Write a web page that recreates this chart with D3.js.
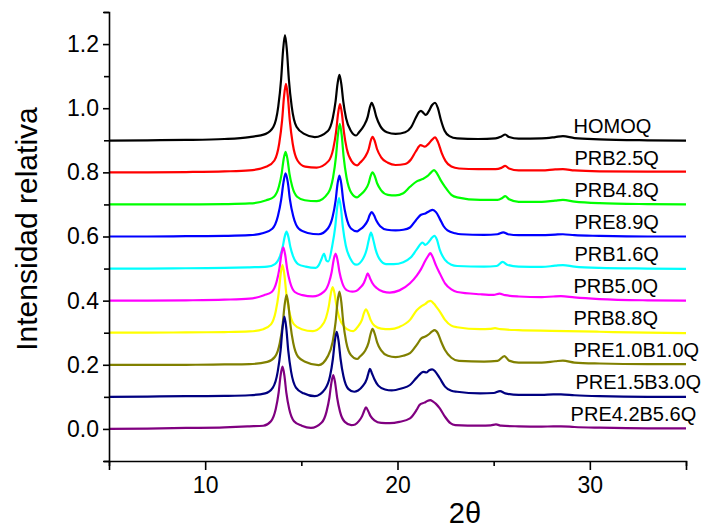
<!DOCTYPE html>
<html>
<head>
<meta charset="utf-8">
<script src="https://cdn.jsdelivr.net/npm/d3@7"></script>
<style>
  body { margin: 0; background: #fff; }
  svg { display: block; font-family: "Liberation Sans", Arial, sans-serif; }
</style>
</head>
<body>
<div id="chart"></div>
<script>
// sample names, colours, vertical offsets and label positions (2θ)
const sampleNames = ['HOMOQ', 'PRB2.5Q', 'PRB4.8Q', 'PRE8.9Q', 'PRB1.6Q',
  'PRB5.0Q', 'PRB8.8Q', 'PRE1.0B1.0Q', 'PRE1.5B3.0Q', 'PRE4.2B5.6Q'];
const seriesColors = ['#000000', '#ff0000', '#00ff00', '#0000ff', '#00ffff',
  '#ff00ff', '#ffff00', '#808000', '#000080', '#800080'];
const offsets = [0.9, 0.8, 0.7, 0.6, 0.5, 0.4, 0.3, 0.2, 0.1, 0.0];
const labelX = [29.15, 29.2, 29.2, 29.2, 29.2, 29.15, 29.15, 29.15, 29.25, 29.0];

const xTicks = [10, 20, 30];
const xMinor = [5, 15, 25, 35];
const yTicks = [0, 0.2, 0.4, 0.6, 0.8, 1.0, 1.2];
const yMinor = [-0.1, 0.1, 0.3, 0.5, 0.7, 0.9, 1.1, 1.3];

// diffractograms [2θ, relative intensity]
const homoq = [[5,0.899],[7,0.9],[9,0.901],[11,0.904],[12.3,0.91],[13.15,0.92],[13.55,0.942],[13.8,1.005],[13.95,1.091],[14.05,1.18],[14.15,1.228],[14.25,1.18],[14.35,1.091],[14.5,1.005],[14.75,0.942],[15.15,0.92],[15.7,0.91],
  [16.38,0.929],[16.63,0.968],[16.78,1.021],[16.88,1.075],[16.98,1.104],[17.08,1.075],[17.18,1.021],[17.33,0.968],[17.58,0.929],[17.85,0.915],
  [18.0,0.925],[18.25,0.945],[18.45,0.973],[18.55,1.0],[18.66,1.017],[18.78,1.0],[18.9,0.973],[19.1,0.945],[19.45,0.925],[19.9,0.92],
  [20.4,0.925],[20.7,0.94],[20.95,0.97],[21.12,0.988],[21.22,0.992],[21.35,0.985],[21.48,0.979],[21.62,0.99],[21.8,1.01],[21.95,1.017],[22.1,1.0],[22.25,0.965],[22.45,0.93],[22.7,0.913],[23.1,0.906],
  [24.2,0.904],[25.1,0.906],[25.4,0.912],[25.6,0.918],[25.8,0.91],[26.3,0.905],[27.5,0.906],[28.2,0.91],[28.6,0.913],[29.2,0.907],[30.5,0.903],[33,0.9],[35,0.899]];

const prb25q = [[5,0.8],[7,0.8],[9,0.801],[11,0.803],[12.3,0.806],[13.2,0.818],[13.6,0.837],[13.85,0.89],[14.0,0.962],[14.1,1.036],[14.2,1.076],[14.3,1.036],[14.4,0.962],[14.55,0.89],[14.8,0.837],[15.2,0.818],[15.8,0.815],
  [16.41,0.835],[16.66,0.874],[16.81,0.928],[16.91,0.983],[17.01,1.013],[17.11,0.983],[17.21,0.928],[17.36,0.874],[17.61,0.835],[17.9,0.822],
  [18.05,0.83],[18.3,0.847],[18.5,0.872],[18.6,0.897],[18.7,0.911],[18.82,0.897],[18.94,0.872],[19.15,0.847],[19.5,0.83],[19.9,0.823],
  [20.4,0.826],[20.7,0.84],[20.95,0.865],[21.2,0.885],[21.42,0.88],[21.6,0.888],[21.8,0.902],[21.95,0.909],[22.1,0.895],[22.3,0.86],[22.5,0.835],[22.8,0.818],[23.2,0.812],
  [24.2,0.81],[25.1,0.81],[25.4,0.814],[25.6,0.82],[25.8,0.812],[26.3,0.806],[27.5,0.806],[28.2,0.809],[28.6,0.81],[29.2,0.806],[30.5,0.803],[33,0.802],[35,0.802]];

const prb48q = [[5,0.7],[7,0.7],[9,0.7],[11,0.701],[12.3,0.703],[13.18,0.713],[13.58,0.724],[13.83,0.755],[13.98,0.797],[14.08,0.841],[14.18,0.864],[14.28,0.841],[14.38,0.797],[14.53,0.755],[14.78,0.724],[15.18,0.713],[15.8,0.71],
  [16.4,0.736],[16.65,0.784],[16.8,0.848],[16.9,0.915],[17.0,0.951],[17.1,0.915],[17.2,0.848],[17.35,0.784],[17.6,0.736],[17.9,0.722],
  [18.05,0.729],[18.3,0.744],[18.5,0.766],[18.6,0.788],[18.7,0.8],[18.82,0.788],[18.94,0.766],[19.15,0.744],[19.5,0.73],[19.9,0.728],
  [20.3,0.735],[20.65,0.755],[21.0,0.772],[21.3,0.779],[21.55,0.788],[21.75,0.8],[21.9,0.807],[22.05,0.797],[22.25,0.775],[22.47,0.755],[22.8,0.73],[23.1,0.722],
  [24.3,0.714],[25.2,0.714],[25.45,0.72],[25.6,0.726],[25.8,0.716],[26.3,0.708],[27.5,0.708],[28.2,0.712],[28.6,0.714],[29.2,0.709],[30.5,0.704],[33,0.701],[35,0.7]];

const pre89q = [[5,0.6],[7,0.6],[9,0.601],[11,0.602],[12.3,0.604],[13.03,0.611],[13.49,0.624],[13.78,0.663],[13.95,0.714],[14.07,0.768],[14.18,0.797],[14.3,0.768],[14.41,0.714],[14.58,0.663],[14.87,0.624],[15.33,0.611],[15.9,0.607],
  [16.38,0.625],[16.63,0.662],[16.78,0.711],[16.88,0.763],[16.98,0.79],[17.08,0.763],[17.18,0.711],[17.33,0.662],[17.58,0.625],[17.9,0.616],
  [18.0,0.62],[18.25,0.632],[18.45,0.65],[18.55,0.666],[18.66,0.676],[18.78,0.666],[18.9,0.65],[19.1,0.632],[19.45,0.621],[19.9,0.619],
  [20.3,0.621],[20.65,0.628],[20.95,0.65],[21.2,0.667],[21.45,0.672],[21.65,0.679],[21.83,0.683],[22.0,0.676],[22.2,0.655],[22.4,0.632],[22.6,0.619],[23.0,0.61],[23.3,0.607],
  [24.5,0.605],[25.2,0.607],[25.5,0.613],[25.75,0.607],[26.3,0.604],[27.5,0.604],[28.2,0.606],[28.6,0.607],[29.2,0.604],[30.5,0.602],[33,0.6],[35,0.6]];

const prb16q = [[5,0.5],[7,0.5],[9,0.501],[11,0.502],[12.3,0.504],[13.23,0.506],[13.63,0.514],[13.88,0.537],[14.03,0.567],[14.13,0.598],[14.23,0.615],[14.33,0.598],[14.43,0.567],[14.58,0.537],[14.83,0.514],[15.23,0.506],[15.75,0.502],
  [15.9,0.51],[16.05,0.53],[16.18,0.547],[16.3,0.525],[16.4,0.522],
  [16.61,0.572],[16.76,0.629],[16.86,0.688],[16.96,0.72],[17.06,0.688],[17.16,0.629],[17.31,0.572],[17.56,0.53],[17.85,0.512],
  [18.2,0.53],[18.4,0.56],[18.51,0.59],[18.62,0.612],[18.74,0.59],[18.86,0.56],[19.06,0.53],[19.4,0.514],[19.8,0.514],
  [20.3,0.52],[20.7,0.535],[21.0,0.56],[21.3,0.581],[21.45,0.574],[21.65,0.585],[21.8,0.597],[21.92,0.602],[22.05,0.59],[22.2,0.558],[22.47,0.527],[22.8,0.512],[23.1,0.508],
  [24.5,0.506],[25.15,0.508],[25.47,0.521],[25.7,0.512],[26.3,0.506],[27.5,0.505],[28.2,0.509],[28.6,0.511],[29.2,0.506],[30.5,0.502],[33,0.5],[35,0.499]];

const prb50q = [[5,0.4],[7,0.4],[9,0.401],[11,0.403],[12.3,0.406],[13.06,0.417],[13.46,0.427],[13.71,0.458],[13.86,0.5],[13.96,0.543],[14.06,0.566],[14.16,0.543],[14.26,0.5],[14.41,0.458],[14.66,0.427],[15.06,0.417],[15.6,0.413],
  [16.18,0.428],[16.43,0.455],[16.58,0.49],[16.68,0.527],[16.78,0.547],[16.88,0.527],[16.98,0.49],[17.13,0.455],[17.38,0.432],[17.65,0.428],
  [17.85,0.43],[18.05,0.44],[18.25,0.455],[18.35,0.47],[18.45,0.485],[18.57,0.47],[18.69,0.455],[18.9,0.44],[19.25,0.428],[19.6,0.425],
  [20.1,0.432],[20.65,0.454],[21.0,0.478],[21.2,0.496],[21.45,0.525],[21.62,0.542],[21.7,0.548],[21.8,0.54],[22.0,0.51],[22.2,0.485],[22.47,0.454],[22.8,0.435],[23.1,0.427],
  [24.3,0.42],[25.0,0.418],[25.3,0.422],[25.6,0.417],[26.3,0.413],[27.5,0.411],[28.1,0.413],[28.5,0.414],[29.2,0.41],[30.5,0.405],[33,0.401],[35,0.4]];

const prb88q = [[5,0.3],[7,0.3],[9,0.301],[11,0.302],[12.3,0.304],[13.02,0.311],[13.42,0.326],[13.67,0.367],[13.82,0.422],[13.92,0.48],[14.02,0.511],[14.12,0.48],[14.22,0.422],[14.37,0.367],[14.62,0.326],[15.02,0.311],[15.6,0.305],
  [16.03,0.319],[16.28,0.346],[16.43,0.383],[16.53,0.421],[16.63,0.442],[16.73,0.421],[16.83,0.383],[16.98,0.346],[17.23,0.319],[17.55,0.306],
  [17.7,0.305],[17.95,0.32],[18.15,0.34],[18.25,0.36],[18.36,0.373],[18.48,0.36],[18.6,0.34],[18.8,0.322],[19.15,0.313],[19.6,0.311],
  [20.1,0.318],[20.65,0.34],[21.0,0.37],[21.25,0.383],[21.45,0.39],[21.6,0.397],[21.72,0.399],[21.9,0.39],[22.05,0.378],[22.2,0.366],[22.47,0.34],[22.8,0.322],[23.1,0.317],
  [24.3,0.311],[24.8,0.312],[25.07,0.314],[25.35,0.311],[26.3,0.308],[28.0,0.306],[30.5,0.303],[33,0.3],[35,0.299]];

const pre10b10q = [[5,0.2],[7,0.2],[9,0.2],[11,0.201],[12.3,0.202],[13.23,0.209],[13.63,0.225],[13.88,0.268],[14.03,0.326],[14.13,0.386],[14.23,0.418],[14.33,0.386],[14.43,0.326],[14.58,0.268],[14.83,0.225],[15.23,0.209],[15.9,0.199],
  [16.38,0.227],[16.63,0.272],[16.78,0.332],[16.88,0.395],[16.98,0.428],[17.08,0.395],[17.18,0.332],[17.33,0.272],[17.58,0.23],[17.9,0.218],
  [18.05,0.226],[18.3,0.242],[18.5,0.27],[18.6,0.296],[18.7,0.312],[18.82,0.296],[18.94,0.27],[19.15,0.245],[19.5,0.228],[19.9,0.224],
  [20.3,0.228],[20.65,0.236],[21.0,0.262],[21.25,0.283],[21.45,0.288],[21.65,0.296],[21.8,0.304],[21.92,0.308],[22.1,0.298],[22.25,0.275],[22.47,0.246],[22.8,0.222],[23.2,0.212],
  [24.5,0.21],[25.2,0.212],[25.56,0.227],[25.8,0.213],[26.3,0.207],[27.5,0.207],[28.2,0.211],[28.6,0.213],[29.2,0.207],[30.5,0.204],[33,0.202],[35,0.202]];

const pre15b30q = [[5,0.1],[7,0.101],[9,0.102],[11,0.103],[12.3,0.105],[13.12,0.111],[13.52,0.129],[13.77,0.178],[13.92,0.244],[14.02,0.313],[14.12,0.35],[14.22,0.313],[14.32,0.244],[14.47,0.178],[14.72,0.129],[15.12,0.111],[15.7,0.102],
  [16.24,0.125],[16.49,0.164],[16.64,0.218],[16.74,0.273],[16.84,0.303],[16.94,0.273],[17.04,0.218],[17.19,0.164],[17.44,0.125],[17.75,0.116],
  [17.95,0.12],[18.2,0.134],[18.4,0.155],[18.48,0.172],[18.57,0.187],[18.68,0.172],[18.8,0.155],[19.0,0.135],[19.35,0.123],[19.7,0.12],
  [20.2,0.126],[20.65,0.137],[21.0,0.16],[21.35,0.178],[21.5,0.176],[21.65,0.183],[21.8,0.186],[21.95,0.18],[22.2,0.158],[22.47,0.132],[22.8,0.119],[23.1,0.116],
  [24.3,0.111],[25.0,0.112],[25.33,0.118],[25.6,0.111],[26.3,0.106],[27.5,0.106],[28.1,0.108],[28.5,0.108],[29.2,0.105],[30.5,0.102],[33,0.1],[35,0.1]];

const pre42b56q = [[5,0],[7,0.001],[9,0.003],[11,0.005],[12.3,0.008],[13.02,0.01],[13.42,0.024],[13.67,0.062],[13.82,0.113],[13.92,0.166],[14.02,0.194],[14.12,0.166],[14.22,0.113],[14.37,0.062],[14.62,0.024],[15.02,0.01],[15.5,0.003],
  [16.06,0.02],[16.31,0.054],[16.46,0.098],[16.56,0.143],[16.66,0.168],[16.76,0.143],[16.86,0.098],[17.01,0.054],[17.26,0.022],[17.6,0.012],
  [17.8,0.014],[18.0,0.025],[18.16,0.04],[18.26,0.055],[18.36,0.067],[18.48,0.055],[18.6,0.04],[18.8,0.027],[19.15,0.019],[19.6,0.018],
  [20.1,0.022],[20.65,0.033],[21.0,0.06],[21.15,0.075],[21.4,0.082],[21.55,0.087],[21.7,0.09],[21.85,0.085],[22.0,0.078],[22.2,0.064],[22.47,0.038],[22.75,0.018],[23.0,0.012],
  [24.3,0.01],[24.85,0.011],[25.12,0.014],[25.4,0.01],[26.3,0.008],[27.5,0.007],[28.1,0.008],[28.5,0.008],[29.2,0.006],[30.5,0.004],[33,0.002],[35,0.002]];

const seriesData = [homoq, prb25q, prb48q, pre89q, prb16q, prb50q, prb88q, pre10b10q, pre15b30q, pre42b56q];

const width = 706, height = 529;

const svg = d3.select('#chart').append('svg')
  .attr('width', width)
  .attr('height', height);

svg.append('rect').attr('width', width).attr('height', height).attr('fill', '#fff');

const xScale = d3.scaleLinear().domain([5, 35]).range([109, 686]);
const yScale = d3.scaleLinear().domain([-0.1, 1.3]).range([461, 12]);

// curves
const line = d3.line()
  .x(d => xScale(d[0]))
  .y(d => yScale(d[1]))
  .curve(d3.curveMonotoneX);

svg.append('g')
  .selectAll('path')
  .data(seriesData)
  .join('path')
  .attr('fill', 'none')
  .attr('stroke', (d, i) => seriesColors[i])
  .attr('stroke-width', 2.2)
  .attr('stroke-linejoin', 'round')
  .attr('d', line);

// sample labels
svg.append('g')
  .selectAll('text')
  .data(sampleNames)
  .join('text')
  .attr('x', (d, i) => xScale(labelX[i]))
  .attr('y', (d, i) => yScale(offsets[i] + 0.024))
  .style('font-size', '20px')
  .style('fill', '#000')
  .text(d => d);

// axes
const xAxis = svg.append('g')
  .attr('transform', `translate(0,${yScale(-0.1)})`)
  .call(d3.axisBottom(xScale).tickValues(xTicks).tickSize(9).tickPadding(7).tickFormat(d3.format('d')));

svg.append('g')
  .attr('transform', `translate(0,${yScale(-0.1)})`)
  .call(d3.axisBottom(xScale).tickValues(xMinor).tickSize(5).tickFormat(''))
  .select('.domain').remove();

const yAxis = svg.append('g')
  .attr('transform', `translate(${xScale(5)},0)`)
  .call(d3.axisLeft(yScale).tickValues(yTicks).tickSize(6).tickPadding(4).tickFormat(d3.format('.1f')));

svg.append('g')
  .attr('transform', `translate(${xScale(5)},0)`)
  .call(d3.axisLeft(yScale).tickValues(yMinor).tickSize(5).tickFormat(''))
  .select('.domain').remove();

svg.selectAll('.domain').attr('stroke', '#000').attr('stroke-width', 1.6);
svg.selectAll('.tick line').attr('stroke', '#000').attr('stroke-width', 1.6);
svg.selectAll('.tick text')
  .style('font-family', '"Liberation Sans", Arial, sans-serif')
  .style('font-size', '23px')
  .style('fill', '#000');

// axis titles
svg.append('text')
  .attr('transform', 'translate(37,229) rotate(-90)')
  .attr('text-anchor', 'middle')
  .style('font-size', '30px')
  .style('fill', '#000')
  .text('Intensidad relativa');

svg.append('text')
  .attr('x', 465)
  .attr('y', 523)
  .attr('text-anchor', 'middle')
  .style('font-size', '29px')
  .style('fill', '#000')
  .text('2θ');
</script>
</body>
</html>
